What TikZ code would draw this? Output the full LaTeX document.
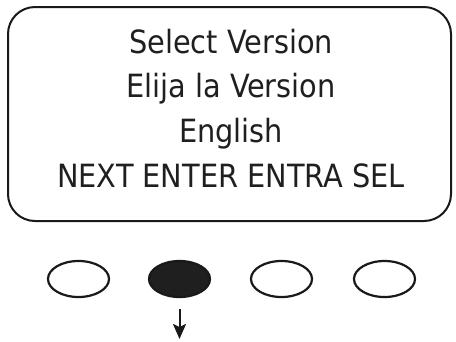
\documentclass[tikz,border=0pt]{standalone}
\usepackage{fontspec}
\setmainfont{DejaVu Sans Condensed}
\usetikzlibrary{shapes.geometric,arrows.meta}
\tikzset{
  screen/.style={draw=black!90, line width=2pt, rounded corners=27pt, minimum width=443pt, minimum height=214pt, inner sep=0pt},
  line/.style={anchor=base, inner sep=0pt, font=\fontsize{32}{36}\selectfont, text=black!88},
  btn/.style={ellipse, draw=black!90, line width=2.2pt, minimum width=61pt, minimum height=36pt, inner sep=0pt},
  btnon/.style={btn, fill=black!88},
  press/.style={line width=2pt, draw=black!90, -{Stealth[length=15pt,width=13pt,inset=3pt]}}
}
\begin{document}
\begin{tikzpicture}[x=1pt,y=-1pt]
\useasboundingbox (0,0) rectangle (456,341);
\node[screen] (scr) at (229.5,114) {};
\node[line] (l1) at (231,53) {Select Version};
\node[line] (l2) at (231,97) {Elija la Version};
\node[line] (l3) at (231,142) {English};
\node[line] (l4) at (231,187) {NEXT ENTER ENTRA SEL};
\node[btn] (b1) at (78.5,279) {};
\node[btnon] (b2) at (179.5,279) {};
\node[btn] (b3) at (281.5,279) {};
\node[btn] (b4) at (384.5,279) {};
\coordinate (a0) at (179.5,309);
\coordinate (a1) at (179.5,339);
\draw[press] (a0) -- (a1);
\end{tikzpicture}
\end{document}
